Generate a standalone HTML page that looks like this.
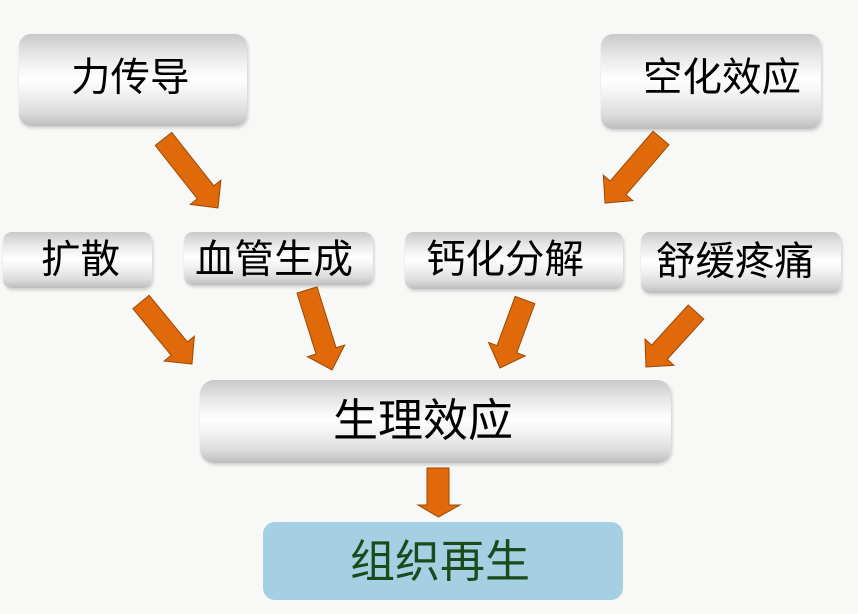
<!DOCTYPE html>
<html>
<head>
<meta charset="utf-8">
<style>
  html,body{margin:0;padding:0;}
  body{width:858px;height:614px;position:relative;overflow:hidden;background:#f8f8f6;
    font-family:"Liberation Sans","Noto Sans CJK SC",sans-serif;}
  .box{position:absolute;border-radius:12px;
    background:linear-gradient(to bottom,#c9c9c9 0%,#e6e6e6 22%,#ffffff 48%,#f4f4f4 62%,#dcdcdc 85%,#bdbdbd 100%);
    box-shadow:1px 2px 3px rgba(0,0,0,0.18);}
  .sm{border-radius:9px;}
  .t{position:absolute;white-space:nowrap;color:#000;line-height:1;}
</style>
</head>
<body>
<div class="box" style="left:19px;top:34px;width:228px;height:92px;"></div>
<div class="box" style="left:601px;top:34px;width:220px;height:95px;"></div>
<div class="box sm" style="left:3px;top:232px;width:149px;height:56px;"></div>
<div class="box sm" style="left:184px;top:232px;width:189px;height:53px;"></div>
<div class="box sm" style="left:405px;top:232px;width:218px;height:57px;"></div>
<div class="box sm" style="left:641px;top:232px;width:200px;height:61px;"></div>
<div class="box" style="left:200px;top:380px;width:471px;height:83px;border-radius:14px;"></div>
<div style="position:absolute;left:263px;top:522px;width:360px;height:78px;border-radius:12px;background:#a5cfe3;"></div>

<div class="t" style="left:71px;top:59px;font-size:39.5px;">力传导</div>
<div class="t" style="left:643px;top:59px;font-size:39.5px;">空化效应</div>
<div class="t" style="left:41px;top:241px;font-size:39.5px;">扩散</div>
<div class="t" style="left:195px;top:241px;font-size:39.5px;">血管生成</div>
<div class="t" style="left:426px;top:241px;font-size:39.5px;">钙化分解</div>
<div class="t" style="left:656px;top:243px;font-size:39.5px;">舒缓疼痛</div>
<div class="t" style="left:333px;top:398px;font-size:45px;">生理效应</div>
<div class="t" style="left:350px;top:539px;font-size:45px;color:#1b4a1b;">组织再生</div>

<svg width="858" height="614" style="position:absolute;left:0;top:0;" xmlns="http://www.w3.org/2000/svg">
  <g fill="#e06a0a" stroke="#9c4704" stroke-width="1">
    <g transform="translate(163.5,139) rotate(51.7)">
      <polygon points="0,-10.5 67.9,-10.5 67.9,-19.5 87.9,0 67.9,19.5 67.9,10.5 0,10.5"/>
    </g>
    <g transform="translate(661,138) rotate(130.7)">
      <polygon points="0,-10.5 65.8,-10.5 65.8,-19.5 85.8,0 65.8,19.5 65.8,10.5 0,10.5"/>
    </g>
    <g transform="translate(141,302) rotate(50.6)">
      <polygon points="0,-10.5 60.3,-10.5 60.3,-19.5 80.3,0 60.3,19.5 60.3,10.5 0,10.5"/>
    </g>
    <g transform="translate(307,290) rotate(72.6)">
      <polygon points="0,-10.5 63.8,-10.5 63.8,-19.5 83.8,0 63.8,19.5 63.8,10.5 0,10.5"/>
    </g>
    <g transform="translate(525,300) rotate(110.2)">
      <polygon points="0,-10.5 52.4,-10.5 52.4,-19.5 72.4,0 52.4,19.5 52.4,10.5 0,10.5"/>
    </g>
    <g transform="translate(696,312) rotate(132.3)">
      <polygon points="0,-10.5 54.3,-10.5 54.3,-19.5 74.3,0 54.3,19.5 54.3,10.5 0,10.5"/>
    </g>
    <polygon points="427,468 449,468 449,505 460,505 438.5,517 418,505 427,505"/>
  </g>
</svg>
</body>
</html>
